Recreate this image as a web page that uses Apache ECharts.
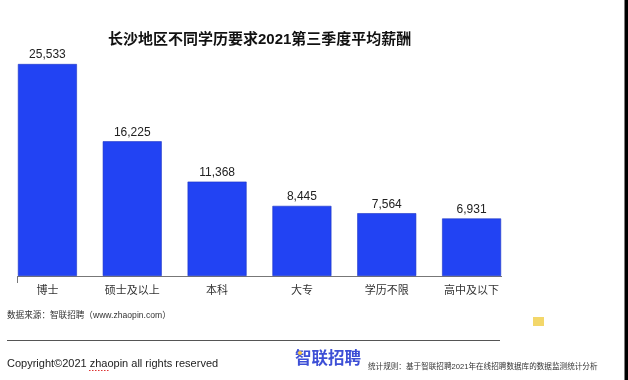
<!DOCTYPE html>
<html>
<head>
<meta charset="utf-8">
<script src="https://cdn.jsdelivr.net/npm/echarts@6/dist/echarts.min.js"></script>
<style>
html,body{margin:0;padding:0;background:#fff;}
#c{width:628px;height:380px;}
</style>
</head>
<body>
<div id="c"></div>
<script>
const titleText = '长沙地区不同学历要求2021第三季度平均薪酬';
const categories = ['博士', '硕士及以上', '本科', '大专', '学历不限', '高中及以下'];
const salaries = [25533, 16225, 11368, 8445, 7564, 6931];
const sourceText = '数据来源：智联招聘（www.zhaopin.com）';
const copyrightText = 'Copyright©2021 zhaopin all rights reserved';
const logoText = '智联招聘';
const ruleText = '统计规则：基于智联招聘2021年在线招聘数据库的数据监测统计分析';

const FONT = '"Liberation Sans", Arial, "Noto Sans CJK SC", sans-serif';
const chart = echarts.init(document.getElementById('c'), null, {renderer: 'canvas'});

chart.setOption({
  backgroundColor: '#fff',
  animation: false,
  textStyle: {fontFamily: FONT},
  title: {
    text: titleText,
    left: 108, top: 32, padding: 0,
    textStyle: {fontSize: 15, fontWeight: 'bold', color: '#111', fontFamily: FONT}
  },
  grid: {left: 5, right: 114, top: 64, bottom: 104, containLabel: false},
  xAxis: {
    type: 'category',
    data: categories,
    axisLine: {show: false},
    axisTick: {show: false},
    axisLabel: {fontSize: 11, color: '#333', margin: 9, fontFamily: FONT}
  },
  yAxis: {
    type: 'value', min: 0, max: Math.max(...salaries), show: false,
    splitLine: {show: false}
  },
  series: [{
    type: 'bar',
    data: salaries,
    barWidth: 59,
    itemStyle: {color: '#2243f3', borderColor: '#1d34c4', borderWidth: 0.6},
    label: {
      show: true, position: 'top', distance: 3,
      fontSize: 12, color: '#222', fontFamily: FONT,
      formatter: p => p.value.toLocaleString('en-US')
    }
  }],
  graphic: [
    {type: 'line', shape: {x1: 17, y1: 276.5, x2: 502, y2: 276.5}, style: {stroke: '#777', lineWidth: 1}},
    {type: 'line', shape: {x1: 17.5, y1: 276, x2: 17.5, y2: 283}, style: {stroke: '#777', lineWidth: 1}},
    {type: 'text', left: 7, top: 311, style: {text: sourceText, fontSize: 8.6, fill: '#333', fontFamily: FONT}},
    {type: 'line', shape: {x1: 7, y1: 340.5, x2: 500, y2: 340.5}, style: {stroke: '#555', lineWidth: 1}},
    {type: 'text', left: 7, top: 358, style: {text: copyrightText, fontSize: 11, fill: '#222', fontFamily: FONT}},
    {type: 'line', shape: {x1: 89, y1: 370.5, x2: 110, y2: 370.5}, style: {stroke: '#d33', lineWidth: 1.2, lineDash: [1.5, 1.5]}},
    {type: 'text', left: 295, top: 351, style: {text: logoText, fontSize: 16.5, fontWeight: 'bold', fill: '#3d4fd6', fontFamily: FONT}},
    {type: 'circle', shape: {cx: 300, cy: 353, r: 2}, style: {fill: '#f5c542'}},
    {type: 'text', left: 368, top: 363, style: {text: ruleText, fontSize: 7.6, fill: '#333', fontFamily: FONT}},
    {type: 'rect', shape: {x: 533, y: 317, width: 11, height: 9}, style: {fill: '#f3d76a'}},
    {type: 'rect', shape: {x: 624.5, y: 0, width: 3.5, height: 380}, style: {fill: '#000'}}
  ]
});
</script>
</body>
</html>
